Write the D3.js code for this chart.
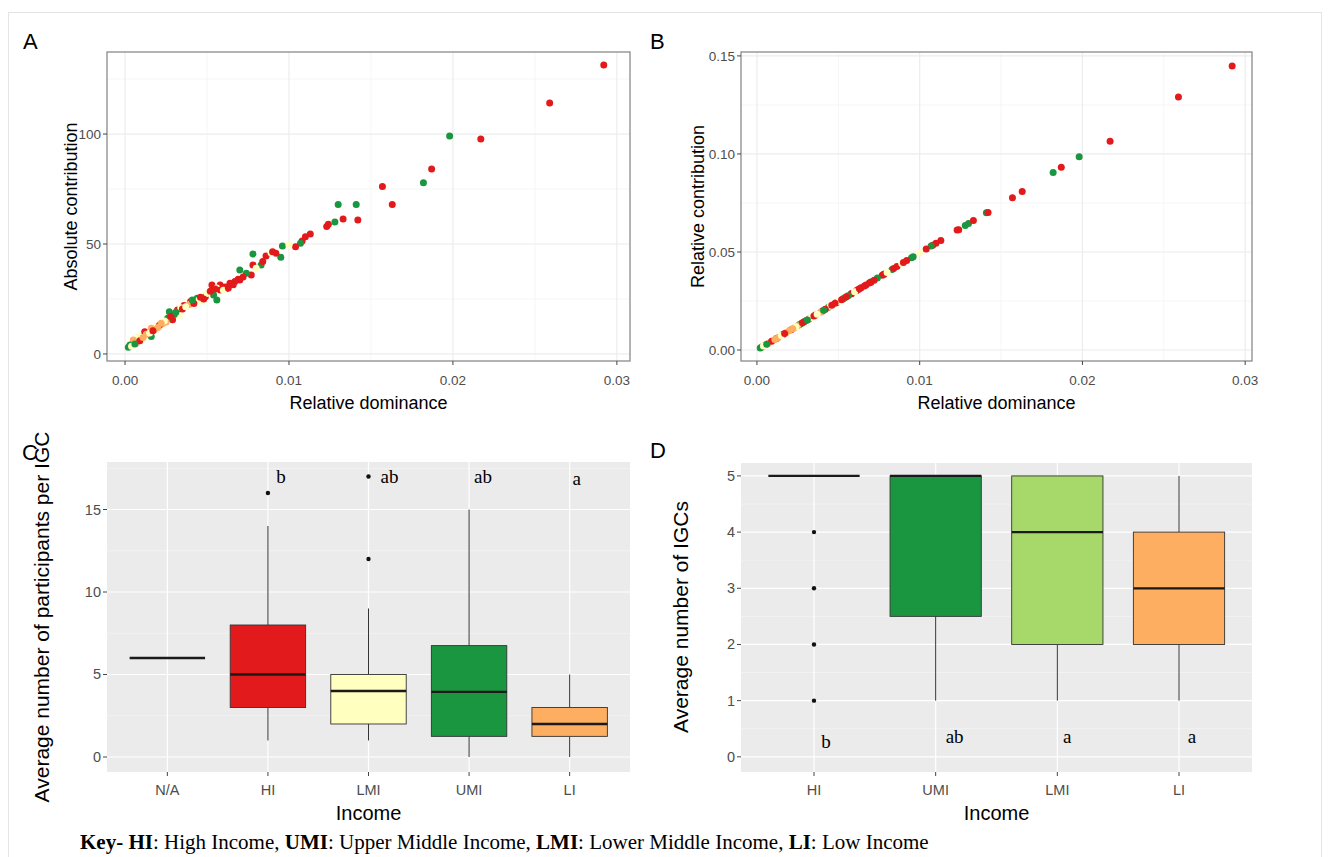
<!DOCTYPE html>
<html>
<head>
<meta charset="utf-8">
<script src="https://cdn.jsdelivr.net/npm/d3@7/dist/d3.min.js"></script>
<style>
  html, body { margin: 0; padding: 0; background: #ffffff; }
  svg { display: block; }
</style>
</head>
<body>
<svg id="chart" width="1330" height="857"></svg>
<script>
// ---------------- DATA ----------------
// Panels A & B: one point per entity
const dominance = [0.0292,0.0259,0.0217,0.0198,0.0187,0.0182,0.0163,0.0157,0.0141,0.0142,0.0130,0.0133,0.0128,0.0123,0.0110,0.0108,0.0107,0.0104,0.0096,0.0095,0.0092,0.0086,0.0089,0.0078,0.0078,0.0083,0.0070,0.0077,0.0074,0.0070,0.0064,0.0058,0.0053,0.0062,0.0056,0.0058,0.0054,0.0056,0.0049,0.0044,0.0040,0.0047,0.0050,0.0032,0.0027,0.0029,0.0026,0.0033,0.0023,0.0025,0.0019,0.0016,0.0012,0.0016,0.0008,0.0005,0.0003,0.0002,0.0007,0.0010,0.0036,0.0034,0.0021,0.0013,0.0004,0.0066,0.0061,0.0045,0.0009,0.0039,0.0030,0.0018,0.0069,0.0100,0.0113,0.0124,
  0.0035,0.0037,0.0042,0.0048,0.0052,0.0055,0.0060,0.0063,0.0067,0.0072,0.0080,0.0084,0.0028,0.0024,0.0022,0.0020,0.0015,0.0011,0.0006,0.0031,0.0041,0.0090,0.0046,0.0017];
const absoluteContribution = [131.4,114.1,97.7,99.1,84.1,77.9,68.0,76.1,68.0,60.9,68.0,61.4,60.0,58.0,53.3,51.4,50.3,48.8,49.1,44.0,45.8,44.5,46.0,45.5,40.5,40.5,38.2,35.9,36.7,33.6,32.1,31.4,31.4,29.8,30.0,29.1,26.8,24.5,26.0,25.3,23.8,24.0,27.5,20.0,19.2,15.5,16.2,17.5,13.9,14.5,12.5,11.7,10.1,7.9,8.0,6.4,4.1,3.0,5.0,6.5,22.0,21.0,13.0,9.0,3.5,31.5,30.5,24.5,6.0,22.5,18.0,11.0,34.0,49.5,54.5,59.0,
  20.5,21.5,23.0,25.0,28.5,29.5,29.0,30.0,33.0,35.0,39.0,42.0,17.0,15.0,14.0,12.0,9.5,7.5,4.5,19.0,24.5,46.5,25.8,10.5];
const relativeContribution = [0.1449,0.1290,0.1065,0.0986,0.0932,0.0905,0.0808,0.0777,0.0700,0.0702,0.0645,0.0660,0.0635,0.0612,0.0545,0.0535,0.0530,0.0515,0.0476,0.0471,0.0456,0.0426,0.0441,0.0387,0.0386,0.0411,0.0347,0.0381,0.0367,0.0346,0.0317,0.0287,0.0262,0.0307,0.0277,0.0287,0.0267,0.0277,0.0243,0.0218,0.0198,0.0233,0.0248,0.0158,0.0134,0.0144,0.0129,0.0163,0.0114,0.0124,0.0094,0.0079,0.0059,0.0079,0.0040,0.0025,0.0015,0.0010,0.0035,0.0050,0.0178,0.0168,0.0104,0.0064,0.0020,0.0327,0.0302,0.0223,0.0045,0.0193,0.0149,0.0089,0.0342,0.0495,0.0559,0.0614,
  0.0173,0.0183,0.0208,0.0238,0.0257,0.0272,0.0297,0.0312,0.0332,0.0356,0.0396,0.0416,0.0139,0.0119,0.0109,0.0099,0.0074,0.0054,0.0030,0.0153,0.0203,0.0446,0.0228,0.0084];
const incomeGroup = ["HI","HI","HI","UMI","HI","UMI","HI","HI","UMI","HI","UMI","HI","UMI","HI","HI","HI","UMI","HI","UMI","UMI","HI","HI","LMI","UMI","HI","UMI","UMI","HI","UMI","HI","HI","HI","HI","HI","LMI","HI","UMI","UMI","HI","UMI","HI","LMI","LMI","HI","UMI","HI","UMI","LMI","LI","LI","LMI","LI","HI","UMI","LMI","LI","UMI","UMI","LI","LMI","HI","LMI","HI","LI","LMI","HI","HI","LMI","HI","LI","UMI","LI","HI","LMI","HI","HI",
  "HI","LMI","HI","HI","HI","HI","LMI","HI","HI","HI","LMI","HI","HI","LMI","LI","LI","LMI","LI","UMI","UMI","UMI","HI","HI","HI"];

const xTicksAB = [0, 0.01, 0.02, 0.03];
const yTicksA = [0, 50, 100];
const yTicksB = [0, 0.05, 0.10, 0.15];

// Panel C: participants per IGC by income
const incomeC = ["N/A","HI","LMI","UMI","LI"];
const cWhiskLow  = [6, 1, 1, 0, 0];
const cQ1        = [6, 3, 2, 1.25, 1.25];
const cMedian    = [6, 5, 4, 3.95, 2];
const cQ3        = [6, 8, 5, 6.75, 3];
const cWhiskHigh = [6, 14, 9, 15, 5];
const cOutliers  = [[], [16], [12, 17], [], []];
const cLetters   = ["", "b", "ab", "ab", "a"];
const yTicksC = [0, 5, 10, 15];

// Panel D: number of IGCs by income
const incomeD = ["HI","UMI","LMI","LI"];
const dWhiskLow  = [5, 1, 1, 1];
const dQ1        = [5, 2.5, 2, 2];
const dMedian    = [5, 5, 4, 3];
const dQ3        = [5, 5, 5, 4];
const dWhiskHigh = [5, 5, 5, 5];
const dOutliers  = [[1, 2, 3, 4], [], [], []];
const dLetters   = ["b", "ab", "a", "a"];
const yTicksD = [0, 1, 2, 3, 4, 5];

// ---------------- STYLE ----------------
const scatterColor = { HI: "#e31a1c", UMI: "#1a9641", LMI: "#ffffbf", LI: "#fdae61" };
const boxColorC = { "N/A": "#ebebeb", HI: "#e31a1c", LMI: "#ffffbf", UMI: "#1a9641", LI: "#fdae61" };
const boxColorD = { HI: "#a6d96a", UMI: "#1a9641", LMI: "#a6d96a", LI: "#fdae61" };
const SANS = "'Liberation Sans', Arial, sans-serif";
const SERIF = "'Liberation Serif', 'Times New Roman', serif";

const svg = d3.select("#chart");
svg.append("rect").attr("width", 1330).attr("height", 857).attr("fill", "#fff");
svg.append("rect").attr("x", 8.5).attr("y", 12.5).attr("width", 1313).attr("height", 850)
  .attr("fill", "none").attr("stroke", "#e4e4e4").attr("stroke-width", 1);

function tickLabel(g, x, y, text, anchor, size) {
  g.append("text").attr("x", x).attr("y", y).attr("text-anchor", anchor)
    .attr("font-family", SANS).attr("font-size", size || 13.5).attr("fill", "#4d4d4d").text(text);
}
function title(g, x, y, text, rotate, size) {
  const t = g.append("text").attr("font-family", SANS).attr("font-size", size || 18)
    .attr("fill", "#000").attr("text-anchor", "middle").text(text);
  if (rotate) t.attr("transform", `translate(${x},${y}) rotate(-90)`);
  else t.attr("x", x).attr("y", y);
}
function panelLetter(x, y, text) {
  svg.append("text").attr("x", x).attr("y", y).attr("font-family", SANS)
    .attr("font-size", 22).attr("fill", "#000").text(text);
}

// ---------------- SCATTER PANELS ----------------
function scatterPanel(o) {
  const g = svg.append("g");
  const x = d3.scaleLinear().domain(o.xDomain).range([o.left, o.right]);
  const y = d3.scaleLinear().domain(o.yDomain).range([o.bottom, o.top]);
  const xMinor = xTicksAB.map(d => d + 0.005).filter(v => v < o.xDomain[1]);
  const yStep = o.yTicks[1] - o.yTicks[0];
  const yMinor = o.yTicks.map(d => d + yStep / 2).filter(v => v < o.yDomain[1]);
  g.selectAll(".xm").data(xMinor).join("line")
    .attr("x1", d => x(d)).attr("x2", d => x(d)).attr("y1", o.top).attr("y2", o.bottom)
    .attr("stroke", "#f6f6f6").attr("stroke-width", 1);
  g.selectAll(".ym").data(yMinor).join("line")
    .attr("x1", o.left).attr("x2", o.right).attr("y1", d => y(d)).attr("y2", d => y(d))
    .attr("stroke", "#f6f6f6").attr("stroke-width", 1);
  g.selectAll(".xg").data(xTicksAB).join("line")
    .attr("x1", d => x(d)).attr("x2", d => x(d)).attr("y1", o.top).attr("y2", o.bottom)
    .attr("stroke", "#ececec").attr("stroke-width", 1.2);
  g.selectAll(".yg").data(o.yTicks).join("line")
    .attr("x1", o.left).attr("x2", o.right).attr("y1", d => y(d)).attr("y2", d => y(d))
    .attr("stroke", "#ececec").attr("stroke-width", 1.2);
  g.selectAll("circle").data(dominance.map((d, i) => i)).join("circle")
    .attr("cx", i => x(dominance[i])).attr("cy", i => y(o.yVals[i])).attr("r", 3.5)
    .attr("fill", i => scatterColor[incomeGroup[i]]);
  g.append("rect").attr("x", o.left).attr("y", o.top).attr("width", o.right - o.left)
    .attr("height", o.bottom - o.top).attr("fill", "none").attr("stroke", "#8a8a8a").attr("stroke-width", 1.3);
  xTicksAB.forEach(t => {
    g.append("line").attr("x1", x(t)).attr("x2", x(t)).attr("y1", o.bottom).attr("y2", o.bottom + 4)
      .attr("stroke", "#444");
    tickLabel(g, x(t), o.bottom + 24, d3.format(".2f")(t), "middle");
  });
  o.yTicks.forEach(t => {
    g.append("line").attr("x1", o.left - 4).attr("x2", o.left).attr("y1", y(t)).attr("y2", y(t))
      .attr("stroke", "#444");
    tickLabel(g, o.left - 6, y(t) + 5, o.yFmt(t), "end");
  });
  title(g, (o.left + o.right) / 2, o.bottom + 48, "Relative dominance");
  title(g, o.yTitleX, (o.top + o.bottom) / 2, o.yTitle, true);
}

scatterPanel({
  left: 107, right: 630, top: 52, bottom: 361,
  xDomain: [-0.0011, 0.0308], yDomain: [-3.2, 137.3],
  yVals: absoluteContribution, yTicks: yTicksA, yFmt: d3.format("d"),
  yTitle: "Absolute contribution", yTitleX: 77
});
scatterPanel({
  left: 741, right: 1252, top: 52, bottom: 361,
  xDomain: [-0.00098, 0.03042], yDomain: [-0.0056, 0.152],
  yVals: relativeContribution, yTicks: yTicksB, yFmt: d3.format(".2f"),
  yTitle: "Relative contribution", yTitleX: 704
});

// ---------------- BOX PANELS ----------------
function boxPanel(o) {
  const g = svg.append("g");
  const x = d3.scalePoint().domain(o.cats).range([o.left, o.right]).padding(0.6);
  const y = d3.scaleLinear().domain(o.yDomain).range([o.bottom, o.top]);
  const bw = x.step() * 0.75;
  g.append("rect").attr("x", o.left).attr("y", o.top).attr("width", o.right - o.left)
    .attr("height", o.bottom - o.top).attr("fill", "#ebebeb");
  const yStep = o.yTicks[1] - o.yTicks[0];
  const yMinor = [o.yTicks[0] - yStep / 2].concat(o.yTicks.map(d => d + yStep / 2))
    .filter(v => v > o.yDomain[0] && v < o.yDomain[1]);
  g.selectAll(".ym").data(yMinor).join("line")
    .attr("x1", o.left).attr("x2", o.right).attr("y1", d => y(d)).attr("y2", d => y(d))
    .attr("stroke", "#f6f6f6").attr("stroke-width", 0.6);
  g.selectAll(".yg").data(o.yTicks).join("line")
    .attr("x1", o.left).attr("x2", o.right).attr("y1", d => y(d)).attr("y2", d => y(d))
    .attr("stroke", "#ffffff").attr("stroke-width", 1.2);
  g.selectAll(".xg").data(o.cats).join("line")
    .attr("x1", d => x(d)).attr("x2", d => x(d)).attr("y1", o.top).attr("y2", o.bottom)
    .attr("stroke", "#ffffff").attr("stroke-width", 1.2);

  o.cats.forEach((c, i) => {
    const cx = x(c);
    g.append("line").attr("x1", cx).attr("x2", cx).attr("y1", y(o.lo[i])).attr("y2", y(o.q1[i]))
      .attr("stroke", "#333").attr("stroke-width", 1);
    g.append("line").attr("x1", cx).attr("x2", cx).attr("y1", y(o.q3[i])).attr("y2", y(o.hi[i]))
      .attr("stroke", "#333").attr("stroke-width", 1);
    if (o.q3[i] > o.q1[i]) {
      g.append("rect").attr("x", cx - bw / 2).attr("y", y(o.q3[i])).attr("width", bw)
        .attr("height", y(o.q1[i]) - y(o.q3[i])).attr("fill", o.colors[c])
        .attr("stroke", "#333").attr("stroke-width", 0.9);
    }
    g.append("line").attr("x1", cx - bw / 2).attr("x2", cx + bw / 2)
      .attr("y1", y(o.med[i])).attr("y2", y(o.med[i])).attr("stroke", "#1a1a1a").attr("stroke-width", 2.3);
    o.out[i].forEach(v => {
      g.append("circle").attr("cx", cx).attr("cy", y(v)).attr("r", 2.2).attr("fill", "#111");
    });
    if (o.letters[i]) {
      g.append("text").attr("x", cx + o.letterDx[i]).attr("y", y(o.letterY[i]))
        .attr("text-anchor", "middle").attr("font-family", SERIF).attr("font-size", 19)
        .attr("fill", "#000").text(o.letters[i]);
    }
    g.append("line").attr("x1", cx).attr("x2", cx).attr("y1", o.bottom).attr("y2", o.bottom + 4)
      .attr("stroke", "#444");
    tickLabel(g, cx, o.bottom + 23, c, "middle", 14.5);
  });
  o.yTicks.forEach(t => {
    g.append("line").attr("x1", o.left - 4).attr("x2", o.left).attr("y1", y(t)).attr("y2", y(t))
      .attr("stroke", "#444");
    tickLabel(g, o.left - 6, y(t) + 5, String(t), "end", 14.5);
  });
  title(g, (o.left + o.right) / 2, o.bottom + 48, "Income", false, 20);
  title(g, o.yTitleX, o.yTitleY, o.yTitle, true, o.yTitleSize);
}

boxPanel({
  left: 107, right: 630, top: 462, bottom: 772,
  cats: incomeC, yDomain: [-0.91, 17.88], yTicks: yTicksC,
  lo: cWhiskLow, q1: cQ1, med: cMedian, q3: cQ3, hi: cWhiskHigh, out: cOutliers,
  letters: cLetters, letterDx: [0, 13, 21, 14, 7], letterY: [0, 16.6, 16.6, 16.6, 16.5],
  colors: boxColorC,
  yTitle: "Average number of participants per IGC", yTitleX: 49, yTitleY: 617, yTitleSize: 21
});
boxPanel({
  left: 741, right: 1252, top: 463, bottom: 772,
  cats: incomeD, yDomain: [-0.27, 5.23], yTicks: yTicksD,
  lo: dWhiskLow, q1: dQ1, med: dMedian, q3: dQ3, hi: dWhiskHigh, out: dOutliers,
  letters: dLetters, letterDx: [12, 19, 10, 13], letterY: [0.15, 0.25, 0.25, 0.25],
  colors: boxColorD,
  yTitle: "Average number of IGCs", yTitleX: 688, yTitleY: 617, yTitleSize: 21
});

panelLetter(23, 49, "A");
panelLetter(650, 49, "B");
panelLetter(22, 460, "C");
panelLetter(650, 458, "D");

const key = svg.append("text").attr("x", 80).attr("y", 849).attr("font-family", SERIF)
  .attr("font-size", 21).attr("fill", "#000");
const keyParts = [["Key- ", true], ["HI", true], [": High Income, ", false], ["UMI", true],
  [": Upper Middle Income, ", false], ["LMI", true], [": Lower Middle Income, ", false],
  ["LI", true], [": Low Income", false]];
keyParts.forEach(([t, b]) => key.append("tspan").attr("font-weight", b ? "bold" : "normal").text(t));
</script>
</body>
</html>
